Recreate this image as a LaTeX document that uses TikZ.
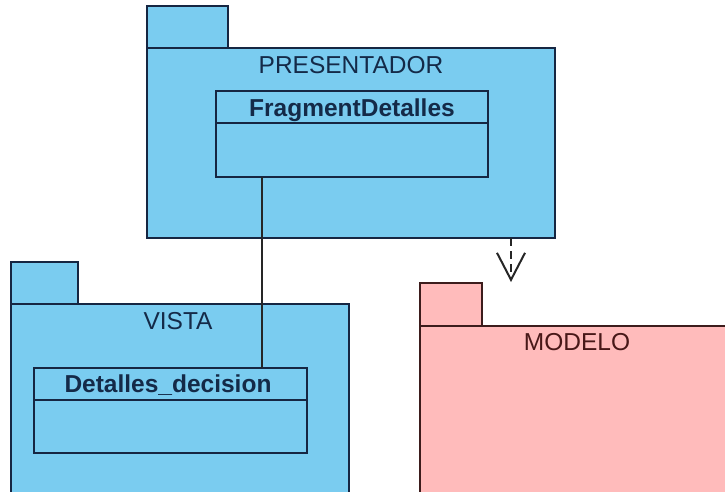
\documentclass[tikz,border=0pt]{standalone}
\usepackage{fontspec}
\setmainfont{Liberation Sans}
\usetikzlibrary{arrows.meta}
\definecolor{pkgblue}{RGB}{122,204,240}
\definecolor{pkgblueline}{RGB}{22,38,66}
\definecolor{pkgpink}{RGB}{255,187,187}
\definecolor{pkgpinkline}{RGB}{60,28,28}
\definecolor{bluetext}{RGB}{20,42,72}
\definecolor{pinktext}{RGB}{72,24,24}
\begin{document}
\begin{tikzpicture}[x=1pt,y=-1pt,
  box/.style={draw, line width=2pt, inner sep=0pt, outer sep=0pt, anchor=north west},
  bluebox/.style={box, fill=pkgblue, draw=pkgblueline},
  pinkbox/.style={box, fill=pkgpink, draw=pkgpinkline},
  ptitle/.style={font=\fontsize{24.5}{28}\selectfont, text=bluetext, inner sep=0pt, anchor=base},
  mtitle/.style={font=\fontsize{24.5}{28}\selectfont, text=pinktext, inner sep=0pt, anchor=base},
  ctitle/.style={font=\fontsize{24.5}{28}\selectfont\bfseries, text=bluetext, inner sep=0pt, anchor=base},
  divider/.style={draw=pkgblueline, line width=2pt},
  assoc/.style={draw=black!85, line width=2pt},
  dep/.style={draw=black!85, line width=2pt, dash pattern=on 8pt off 5pt,
    -{Straight Barb[length=27pt,width=28pt,line width=2pt]}}]
\useasboundingbox (0,0) rectangle (725,492);
\clip (0,0) rectangle (725,492);
\fill[white] (0,0) rectangle (725,492);

% PRESENTADOR package
\node[bluebox, minimum width=81pt, minimum height=42pt] (prestab) at (147,6) {};
\node[bluebox, minimum width=408pt, minimum height=190pt] (pres) at (147,48) {};
\node[ptitle] (prestitle) at (351,74) {PRESENTADOR};
\node[bluebox, minimum width=272pt, minimum height=86pt] (frag) at (216,91) {};
\draw[divider] ([yshift=-32pt]frag.north west) -- ([yshift=-32pt]frag.north east);
\node[ctitle] (fragtitle) at (352,117) {FragmentDetalles};

% VISTA package
\node[bluebox, minimum width=67pt, minimum height=42pt] (vistatab) at (11,262) {};
\node[bluebox, minimum width=338pt, minimum height=260pt] (vista) at (11,304) {};
\node[ptitle] (vistatitle) at (178,329) {VISTA};
\node[bluebox, minimum width=273pt, minimum height=85pt] (detd) at (34,368) {};
\draw[divider] ([yshift=-32pt]detd.north west) -- ([yshift=-32pt]detd.north east);
\node[ctitle] (detdtitle) at (168,392) {Detalles\_decision};

% MODELO package
\node[pinkbox, minimum width=62pt, minimum height=43pt] (modtab) at (420,283) {};
\node[pinkbox, minimum width=360pt, minimum height=220pt] (mod) at (420,326) {};
\node[mtitle] (modtitle) at (577,350) {MODELO};

% connectors
\coordinate (lx) at (262,0);
\draw[assoc] (frag.south -| lx) -- (detd.north -| lx);
\coordinate (ax) at (511,0);
\coordinate (atip) at (511,282);
\draw[dep] (pres.south -| ax) -- (atip);
\end{tikzpicture}
\end{document}
